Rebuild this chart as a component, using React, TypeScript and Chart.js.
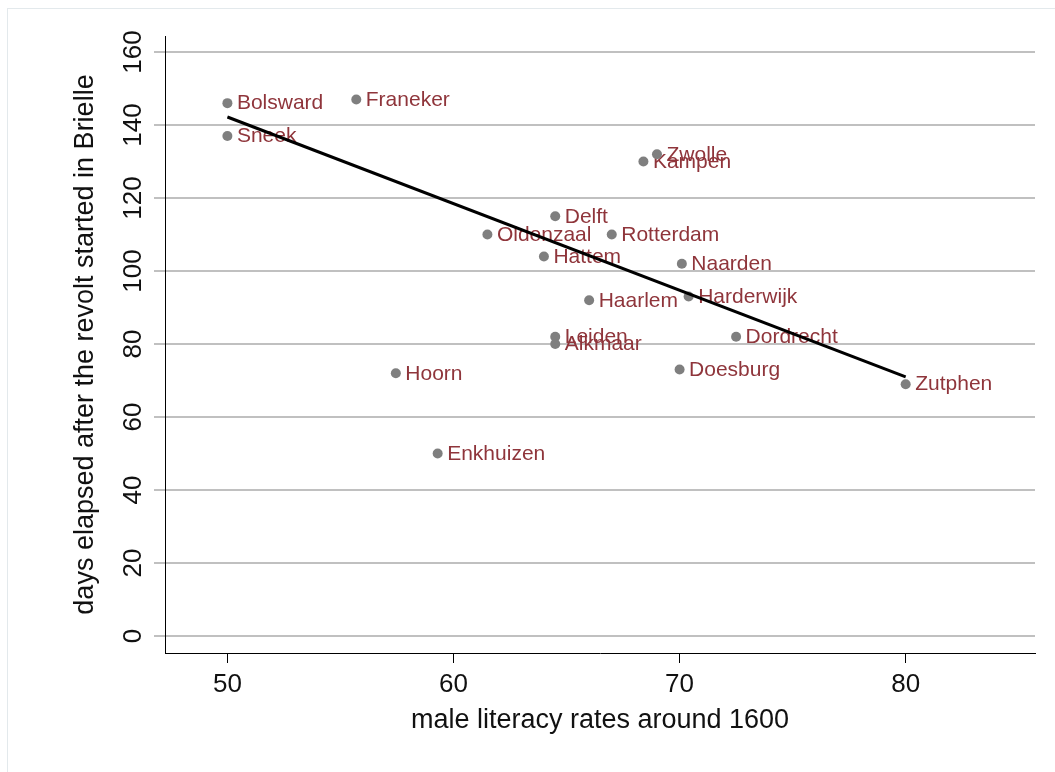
import React, { useEffect, useRef } from "react";
import { Chart, registerables } from "chart.js";

Chart.register(...registerables);

const towns = [
  "Bolsward", "Sneek", "Franeker", "Zwolle", "Kampen", "Delft", "Oldenzaal",
  "Rotterdam", "Hattem", "Naarden", "Haarlem", "Harderwijk", "Leiden",
  "Alkmaar", "Dordrecht", "Doesburg", "Hoorn", "Zutphen", "Enkhuizen",
];
const literacy = [
  50, 50, 55.7, 69.0, 68.4, 64.5, 61.5, 67.0, 64.0, 70.1, 66.0, 70.4, 64.5,
  64.5, 72.5, 70.0, 57.45, 80.0, 59.3,
];
const days = [
  146, 137, 147, 132, 130, 115, 110, 110, 104, 102, 92, 93, 82, 80, 82, 73,
  72, 69, 50,
];
const fitX = [50, 80];
const fitY = [142.2, 71.0];
const xTicks = [50, 60, 70, 80];
const yTicks = [0, 20, 40, 60, 80, 100, 120, 140, 160];

const FONT = '"Liberation Sans", Arial, Helvetica, sans-serif';

const extrasPlugin = {
  id: "extras",
  beforeDraw(chart: any) {
    const ctx = chart.ctx;
    ctx.save();
    ctx.fillStyle = "#ffffff";
    ctx.fillRect(0, 0, chart.width, chart.height);
    ctx.strokeStyle = "#e3e9ec";
    ctx.lineWidth = 1;
    ctx.strokeRect(7.5, 8.5, chart.width + 10, chart.height + 10);
    ctx.restore();
  },
  beforeDatasetsDraw(chart: any) {
    const ctx = chart.ctx;
    const meta = chart.getDatasetMeta(1);
    ctx.save();
    ctx.font = `21px ${FONT}`;
    ctx.fillStyle = "#8f353b";
    ctx.textBaseline = "middle";
    ctx.textAlign = "left";
    meta.data.forEach((pt: any, i: number) => {
      ctx.fillText(towns[i], pt.x + 9.5, pt.y + 0.5);
    });
    ctx.restore();
  },
  afterDraw(chart: any) {
    const ctx = chart.ctx;
    const ys = chart.scales.y;
    ctx.save();
    ctx.font = `26px ${FONT}`;
    ctx.fillStyle = "#111111";
    ctx.textAlign = "center";
    ctx.textBaseline = "middle";
    ys.ticks.forEach((t: any) => {
      const py = ys.getPixelForValue(t.value);
      ctx.save();
      ctx.translate(134, py);
      ctx.rotate(-Math.PI / 2);
      ctx.fillText(String(t.value), 0, 0);
      ctx.restore();
    });
    ctx.restore();
  },
};

export default function App() {
  const ref = useRef<HTMLCanvasElement | null>(null);

  useEffect(() => {
    if (!ref.current) return;
    const chart = new Chart(ref.current, {
      type: "scatter",
      data: {
        datasets: [
          {
            label: "fit",
            data: fitX.map((x, i) => ({ x, y: fitY[i] })),
            showLine: true,
            borderColor: "#000000",
            borderWidth: 3,
            pointRadius: 0,
            fill: false,
          } as any,
          {
            label: "towns",
            data: literacy.map((x, i) => ({ x, y: days[i] })),
            backgroundColor: "#7f7f7f",
            borderWidth: 0,
            pointRadius: 5,
            pointHoverRadius: 5,
          },
        ],
      },
      options: {
        animation: false,
        responsive: false,
        devicePixelRatio: 1,
        events: [],
        layout: { padding: { left: 0, right: 20, top: 36, bottom: 0 } },
        plugins: {
          legend: { display: false },
          tooltip: { enabled: false },
        },
        scales: {
          x: {
            type: "linear",
            min: 47.24,
            max: 85.72,
            afterBuildTicks: (s: any) => {
              s.ticks = xTicks.map((v) => ({ value: v }));
            },
            afterFit: (s: any) => {
              s.height = 119;
            },
            grid: {
              drawOnChartArea: false,
              drawTicks: true,
              tickLength: 10,
              tickColor: "#000000",
              tickWidth: 1,
            },
            border: { display: true, color: "#000000", width: 1 },
            ticks: {
              color: "#111111",
              font: { family: FONT, size: 26 },
              padding: 6,
              maxRotation: 0,
              minRotation: 0,
            },
            title: {
              display: true,
              text: "male literacy rates around 1600",
              color: "#111111",
              font: { family: FONT, size: 27 },
              padding: { top: 0, bottom: 35 },
            },
          },
          y: {
            type: "linear",
            min: -4.66,
            max: 164.4,
            afterBuildTicks: (s: any) => {
              s.ticks = yTicks.map((v) => ({ value: v }));
            },
            afterFit: (s: any) => {
              s.width = 165;
            },
            grid: {
              color: "#c0c0c0",
              lineWidth: 2,
              drawTicks: true,
              tickLength: 11,
            },
            border: { display: true, color: "#000000", width: 1 },
            ticks: { display: false },
            title: {
              display: true,
              text: "days elapsed after the revolt started in Brielle",
              color: "#111111",
              font: { family: FONT, size: 27 },
              padding: { top: 69, bottom: 0 },
            },
          },
        },
      },
      plugins: [extrasPlugin],
    });
    return () => chart.destroy();
  }, []);

  return (
    <div style={{ position: "absolute", left: 0, top: 0, width: 1055, height: 772 }}>
      <canvas ref={ref} width={1055} height={772} style={{ width: 1055, height: 772, display: "block" }} />
    </div>
  );
}
